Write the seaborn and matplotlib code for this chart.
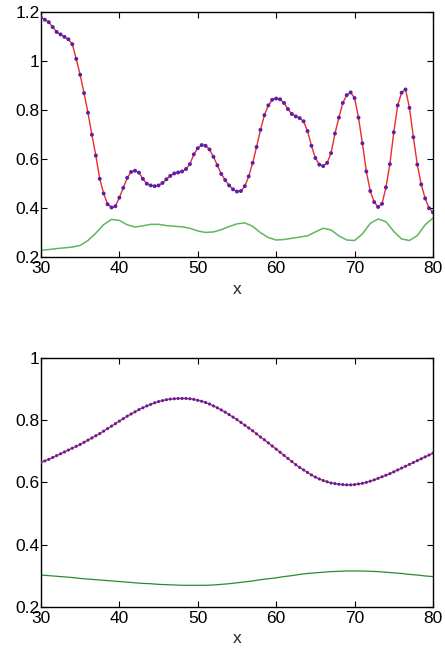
import numpy as np
import matplotlib
matplotlib.use("Agg")
import matplotlib.pyplot as plt
import seaborn as sns

# ---- data ----
top_x = np.arange(30, 80.01, 0.5)
top_fit = [
    1.18, 1.17, 1.16, 1.14, 1.12, 1.11, 1.10, 1.09, 1.07, 1.01,
    0.945, 0.87, 0.79, 0.70, 0.615, 0.52, 0.46, 0.416, 0.403, 0.408,
    0.443, 0.483, 0.524, 0.548, 0.553, 0.545, 0.52, 0.50, 0.493, 0.49,
    0.493, 0.503, 0.518, 0.532, 0.542, 0.546, 0.55, 0.56, 0.58, 0.62,
    0.645, 0.658, 0.655, 0.64, 0.61, 0.575, 0.54, 0.515, 0.493, 0.477,
    0.468, 0.47, 0.49, 0.53, 0.585, 0.65, 0.72, 0.78, 0.82, 0.843,
    0.848, 0.845, 0.83, 0.805, 0.785, 0.775, 0.768, 0.755, 0.715, 0.655,
    0.605, 0.578, 0.572, 0.585, 0.625, 0.705, 0.77, 0.83, 0.862, 0.873,
    0.85, 0.77, 0.665, 0.55, 0.47, 0.425, 0.405, 0.418, 0.485, 0.58,
    0.71, 0.82, 0.872, 0.885, 0.81, 0.69, 0.578, 0.497, 0.44, 0.40,
    0.383,
]
top_err_x = np.arange(30, 81, 1)
top_err = [
    0.228, 0.231, 0.235, 0.238, 0.241, 0.248, 0.268, 0.298, 0.333, 0.354,
    0.350, 0.332, 0.323, 0.328, 0.334, 0.334, 0.329, 0.326, 0.324, 0.318,
    0.307, 0.301, 0.303, 0.312, 0.325, 0.336, 0.340, 0.326, 0.300, 0.280,
    0.270, 0.272, 0.277, 0.282, 0.287, 0.303, 0.318, 0.311, 0.287, 0.270,
    0.268, 0.295, 0.338, 0.356, 0.345, 0.305, 0.274, 0.268, 0.288, 0.332,
    0.360,
]

bot_x = np.arange(30, 80.01, 0.5)
bot_fit = [
    0.664, 0.669, 0.674, 0.680, 0.686, 0.692, 0.698, 0.704, 0.710, 0.716,
    0.722, 0.729, 0.736, 0.743, 0.750, 0.757, 0.765, 0.773, 0.781, 0.789,
    0.797, 0.805, 0.813, 0.820, 0.827, 0.834, 0.840, 0.846, 0.851, 0.856,
    0.860, 0.863, 0.866, 0.868, 0.869, 0.870, 0.870, 0.870, 0.869, 0.867,
    0.864, 0.861, 0.857, 0.852, 0.846, 0.840, 0.833, 0.826, 0.818, 0.810,
    0.802, 0.793, 0.784, 0.775, 0.766, 0.756, 0.746, 0.737, 0.727, 0.717,
    0.707, 0.697, 0.687, 0.677, 0.667, 0.657, 0.648, 0.640, 0.632, 0.624,
    0.617, 0.611, 0.606, 0.602, 0.598, 0.596, 0.594, 0.593, 0.592, 0.592,
    0.593, 0.595, 0.597, 0.600, 0.604, 0.608, 0.613, 0.618, 0.623, 0.628,
    0.634, 0.640, 0.646, 0.652, 0.658, 0.664, 0.670, 0.676, 0.682, 0.688,
    0.694,
]
bot_err_x = np.arange(30, 81, 1)
bot_err = [
    0.302, 0.300, 0.298, 0.296, 0.294, 0.291, 0.289, 0.287, 0.285, 0.283,
    0.281, 0.279, 0.277, 0.275, 0.274, 0.272, 0.271, 0.270, 0.269, 0.269,
    0.269, 0.269, 0.270, 0.272, 0.274, 0.277, 0.280, 0.283, 0.287, 0.290,
    0.293, 0.297, 0.300, 0.304, 0.307, 0.309, 0.311, 0.313, 0.314, 0.315,
    0.315, 0.315, 0.314, 0.313, 0.311, 0.309, 0.307, 0.304, 0.302, 0.299,
    0.297,
]

sns.set_style("ticks")
plt.rcParams["font.family"] = ["Liberation Sans", "DejaVu Sans"]
plt.rcParams["xtick.direction"] = "in"
plt.rcParams["ytick.direction"] = "in"

fig = plt.figure(figsize=(4.45, 6.51), dpi=100)
ax1 = fig.add_axes([0.092, 0.605, 0.881, 0.376])
ax2 = fig.add_axes([0.092, 0.068, 0.881, 0.382])

panels = [
    (ax1, top_x, top_fit, top_err_x, top_err, "#5cb85c", 1.1, 8,
     [0.2, 0.4, 0.6, 0.8, 1.0, 1.2], ["0.2", "0.4", "0.6", "0.8", "1", "1.2"], (0.2, 1.2)),
    (ax2, bot_x, bot_fit, bot_err_x, bot_err, "#2a8a2a", 0.9, 5,
     [0.2, 0.4, 0.6, 0.8, 1.0], ["0.2", "0.4", "0.6", "0.8", "1"], (0.2, 1.0)),
]

for ax, fx, fy, ex, ey, gcol, glw, msize, yt, ytl, ylim in panels:
    sns.lineplot(x=ex, y=ey, ax=ax, color=gcol, linewidth=glw)
    sns.lineplot(x=fx, y=fy, ax=ax, color="#ee2a2a", linewidth=1.0)
    sns.scatterplot(x=fx, y=fy, ax=ax, color="#5a1fa8", s=msize,
                    edgecolor="none", zorder=5)
    ax.set_xlim(30, 80)
    ax.set_ylim(*ylim)
    ax.set_xticks([30, 40, 50, 60, 70, 80])
    ax.set_yticks(yt)
    ax.set_yticklabels(ytl)
    ax.tick_params(labelsize=12.5, length=4, width=0.8, top=True, right=True,
                   colors="black")
    ax.tick_params(axis="y", pad=1)
    ax.tick_params(axis="x", pad=3)
    ax.set_xlabel("x", fontsize=12.5, labelpad=4)
    ax.set_ylabel("")
    for sp in ax.spines.values():
        sp.set_visible(True)
        sp.set_linewidth(1.0)
        sp.set_color("black")

fig.savefig("out.png", dpi=100)
plt.close(fig)
